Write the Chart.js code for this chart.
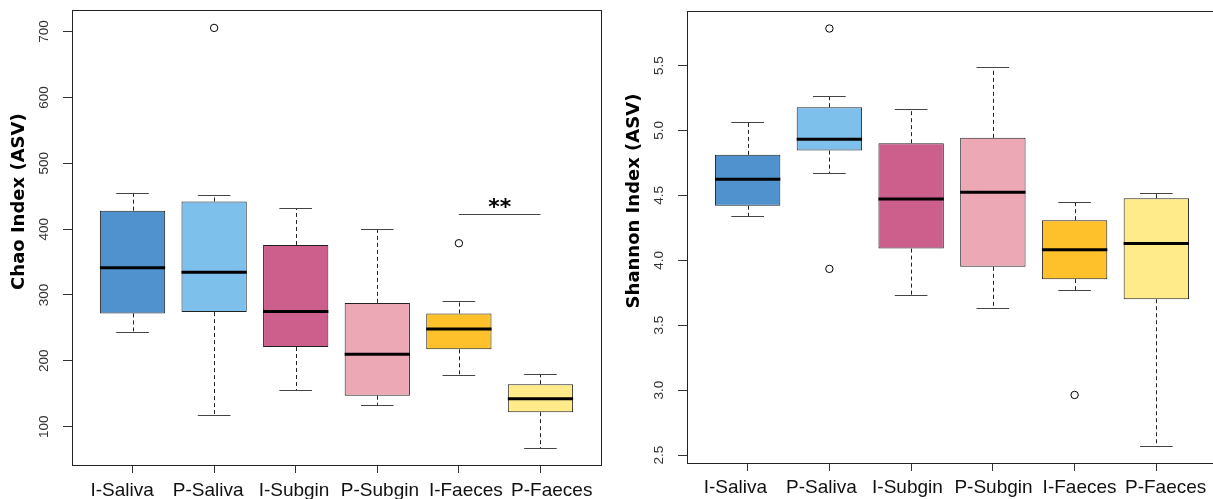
<!DOCTYPE html>
<html>
<head>
<meta charset="utf-8">
<script src="https://cdn.jsdelivr.net/npm/chart.js@4"></script>
<style>
html, body { margin: 0; padding: 0; background: #fff; overflow: hidden; width: 1213px; height: 499px; }
.panel { position: absolute; top: 0; height: 499px; }
#left { left: 0; width: 606px; }
#right { left: 606px; width: 620px; }
</style>
</head>
<body>
<div class="panel" id="left"><canvas id="chaoChart"></canvas></div>
<div class="panel" id="right"><canvas id="shannonChart"></canvas></div>
<script>
const groups = ['I-Saliva', 'P-Saliva', 'I-Subgin', 'P-Subgin', 'I-Faeces', 'P-Faeces'];
const boxColors = ['#4f92cd', '#7ec0ec', '#cd5f8d', '#eda8b6', '#fec12b', '#ffeb8a'];

// Chao index (ASV)
const chaoLow = [244, 117, 155, 133, 178, 67];
const chaoQ1 = [272, 274, 221, 147, 217.5, 122];
const chaoMed = [341.5, 334.5, 275, 210, 248.5, 142.5];
const chaoQ3 = [428, 442, 376, 288, 272, 164.5];
const chaoHigh = [455, 452, 432, 400, 290.5, 180];
const chaoOut = [[], [705.6], [], [], [378.6], []];
const chaoTicks = [100, 200, 300, 400, 500, 600, 700];
const chaoSig = { from: 5, to: 6, level: 423.5, label: '**' };

// Shannon index (ASV)
const shanLow = [4.34, 4.67, 3.73, 3.63, 3.77, 2.57];
const shanQ1 = [4.42, 4.845, 4.09, 3.95, 3.855, 3.70];
const shanMed = [4.625, 4.933, 4.473, 4.525, 4.082, 4.129];
const shanQ3 = [4.812, 5.179, 4.902, 4.943, 4.309, 4.478];
const shanHigh = [5.064, 5.269, 5.164, 5.485, 4.452, 4.517];
const shanOut = [[], [5.785, 3.934], [], [], [2.963], []];
const shanTicks = [2.5, 3.0, 3.5, 4.0, 4.5, 5.0, 5.5];

function boxPlugin(stats) {
    return {
        id: 'boxExtras',
        afterDatasetsDraw(chart) {
            const { ctx, scales: { x, y } } = chart;
            ctx.save();
            stats.low.forEach((lo, i) => {
                const c = i + 1;
                const px = Math.round(x.getPixelForValue(c)) + 0.5;
                const cl = x.getPixelForValue(c - 0.2), cr = x.getPixelForValue(c + 0.2);
                // dashed whiskers
                ctx.strokeStyle = '#222';
                ctx.lineWidth = 1;
                ctx.setLineDash([4, 3]);
                ctx.beginPath();
                ctx.moveTo(px, y.getPixelForValue(stats.q3[i]));
                ctx.lineTo(px, y.getPixelForValue(stats.high[i]));
                ctx.moveTo(px, y.getPixelForValue(stats.q1[i]));
                ctx.lineTo(px, y.getPixelForValue(lo));
                ctx.stroke();
                ctx.setLineDash([]);
                // caps
                ctx.strokeStyle = '#444';
                ctx.beginPath();
                const yh = Math.round(y.getPixelForValue(stats.high[i])) + 0.5;
                const yl = Math.round(y.getPixelForValue(lo)) + 0.5;
                ctx.moveTo(cl, yh); ctx.lineTo(cr, yh);
                ctx.moveTo(cl, yl); ctx.lineTo(cr, yl);
                ctx.stroke();
                // median
                ctx.strokeStyle = '#000';
                ctx.lineWidth = 3;
                ctx.beginPath();
                const ym = y.getPixelForValue(stats.med[i]);
                ctx.moveTo(x.getPixelForValue(c - 0.4), ym);
                ctx.lineTo(x.getPixelForValue(c + 0.4), ym);
                ctx.stroke();
            });
            if (stats.sig) {
                const s = stats.sig;
                const ys = Math.round(y.getPixelForValue(s.level)) + 0.5;
                ctx.strokeStyle = '#444';
                ctx.lineWidth = 1;
                ctx.beginPath();
                ctx.moveTo(x.getPixelForValue(s.from), ys);
                ctx.lineTo(x.getPixelForValue(s.to), ys);
                ctx.stroke();
                ctx.fillStyle = '#000';
                ctx.font = 'bold 22px "DejaVu Sans"';
                ctx.textAlign = 'center';
                ctx.textBaseline = 'alphabetic';
                ctx.fillText(s.label, x.getPixelForValue((s.from + s.to) / 2), ys - 1);
            }
            ctx.restore();
        },
        afterDraw(chart) {
            const { ctx, chartArea: a, scales: { y } } = chart;
            ctx.save();
            ctx.strokeStyle = '#222';
            ctx.lineWidth = 1;
            ctx.strokeRect(Math.round(a.left) + 0.5, Math.round(a.top) + 0.5,
                Math.round(a.right - a.left), Math.round(a.bottom - a.top));
            // rotated tick labels
            ctx.fillStyle = '#333';
            ctx.font = '13.5px "Liberation Sans"';
            ctx.textAlign = 'center';
            ctx.textBaseline = 'middle';
            stats.ticks.forEach(v => {
                ctx.save();
                ctx.translate(a.left - 27.5, y.getPixelForValue(v));
                ctx.rotate(-Math.PI / 2);
                ctx.fillText(stats.fmt(v), 0, 0);
                ctx.restore();
            });
            // axis title
            ctx.fillStyle = '#000';
            ctx.font = 'bold 18px "DejaVu Sans"';
            ctx.translate(a.left - 53, (a.top + a.bottom) / 2 - 36);
            ctx.rotate(-Math.PI / 2);
            ctx.fillText(stats.title, 0, 0);
            ctx.restore();
        }
    };
}

function makeBoxChart(id, stats, yRange, labelRange, axisWidth, xHeight, padding, labelPad) {
    const outliers = [];
    stats.out.forEach((arr, i) => arr.forEach(v => outliers.push({ x: i + 1, y: v })));
    return new Chart(document.getElementById(id), {
        type: 'bar',
        data: {
            datasets: [{
                type: 'bar',
                data: stats.q1.map((v, i) => ({ x: i + 1, y: [v, stats.q3[i]] })),
                backgroundColor: boxColors,
                borderColor: '#222',
                borderWidth: 1,
                borderSkipped: false,
                categoryPercentage: 0.8,
                barPercentage: 1
            }, {
                type: 'scatter',
                data: outliers,
                pointRadius: 3.7,
                pointBackgroundColor: '#fff',
                pointBorderColor: '#000',
                pointBorderWidth: 1
            }]
        },
        options: {
            responsive: true,
            maintainAspectRatio: false,
            animation: false,
            events: [],
            layout: { padding: padding },
            plugins: { legend: { display: false }, tooltip: { enabled: false } },
            scales: {
                x: {
                    type: 'linear', min: 0.258, max: 6.742, offset: false, weight: 0,
                    afterBuildTicks: s => { s.ticks = groups.map((g, i) => ({ value: i + 1 })); },
                    afterFit: s => { s.height = 8; },
                    grid: { display: true, drawOnChartArea: false, drawTicks: true, tickLength: 8, color: '#333', offset: false },
                    border: { display: false },
                    ticks: { display: false }
                },
                // group names sit a little wider apart than the boxes, as in the source figure
                xl: {
                    type: 'linear', position: 'bottom', min: labelRange[0], max: labelRange[1], offset: false, weight: 1,
                    afterBuildTicks: s => { s.ticks = groups.map((g, i) => ({ value: i + 1 })); },
                    afterFit: s => { s.height = xHeight - 8; },
                    grid: { display: false, drawTicks: false },
                    border: { display: false },
                    ticks: {
                        callback: v => groups[v - 1],
                        font: { family: '"Liberation Sans", Arial, sans-serif', size: 19 },
                        color: '#111', padding: labelPad, maxRotation: 0, minRotation: 0, autoSkip: false
                    }
                },
                y: {
                    type: 'linear', min: yRange[0], max: yRange[1],
                    afterBuildTicks: s => { s.ticks = stats.ticks.map(v => ({ value: v })); },
                    afterFit: s => { s.width = axisWidth; },
                    grid: { display: true, drawOnChartArea: false, drawTicks: true, tickLength: 9, color: '#333' },
                    border: { display: false },
                    ticks: { color: 'rgba(0,0,0,0)' }
                }
            }
        },
        plugins: [boxPlugin(stats)]
    });
}

makeBoxChart('chaoChart', {
    low: chaoLow, q1: chaoQ1, med: chaoMed, q3: chaoQ3, high: chaoHigh, out: chaoOut,
    ticks: chaoTicks, fmt: v => String(v), title: 'Chao Index (ASV)', sig: chaoSig
}, [41.8, 732.5], [0.416, 6.573], 72, 34, { top: 10, right: 3, left: 0, bottom: 0 }, 6);

makeBoxChart('shannonChart', {
    low: shanLow, q1: shanQ1, med: shanMed, q3: shanQ3, high: shanHigh, out: shanOut,
    ticks: shanTicks, fmt: v => v.toFixed(1), title: 'Shannon Index (ASV)', sig: null
}, [2.439, 5.92], [0.438, 6.597], 81, 36, { top: 11, right: 9, left: 0, bottom: 0 }, 5);
</script>
</body>
</html>
